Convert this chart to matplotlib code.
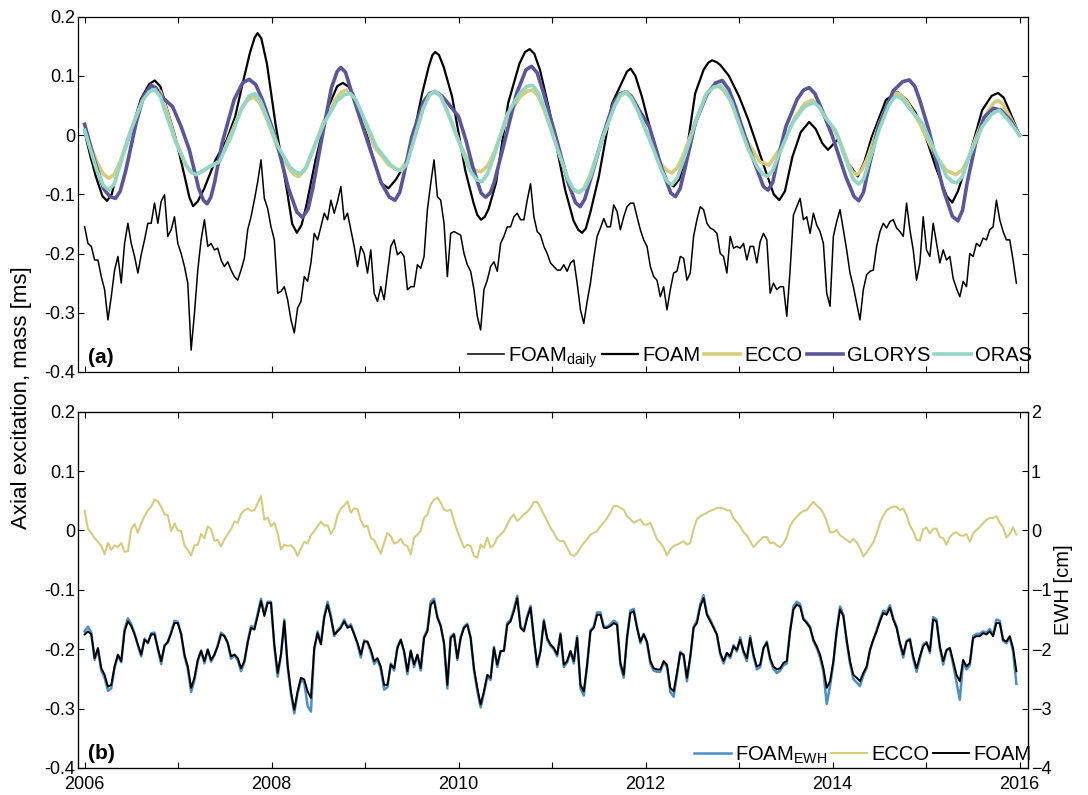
import numpy as np
import matplotlib
matplotlib.use("Agg")
import matplotlib.pyplot as plt

plt.rcParams['font.family'] = ['Liberation Sans', 'DejaVu Sans']
plt.rcParams['mathtext.fontset'] = 'custom'
plt.rcParams['mathtext.rm'] = 'Liberation Sans'

step_days = 13

# (a) FOAM daily, axial excitation [ms]
foam_daily = [
    -0.155, -0.183, -0.188, -0.211, -0.211, -0.239, -0.261, -0.312, -0.273, -0.228,
    -0.205, -0.250, -0.183, -0.149, -0.183, -0.205, -0.233, -0.202, -0.177, -0.149,
    -0.149, -0.115, -0.149, -0.112, -0.101, -0.171, -0.160, -0.138, -0.183, -0.200,
    -0.222, -0.250, -0.363, -0.301, -0.228, -0.177, -0.143, -0.188, -0.183, -0.194,
    -0.191, -0.211, -0.222, -0.214, -0.228, -0.239, -0.245, -0.228, -0.208, -0.160,
    -0.138, -0.110, -0.079, -0.042, -0.107, -0.124, -0.155, -0.177, -0.267, -0.264,
    -0.256, -0.278, -0.312, -0.334, -0.292, -0.281, -0.239, -0.247, -0.216, -0.166,
    -0.177, -0.155, -0.132, -0.143, -0.110, -0.132, -0.112, -0.087, -0.143, -0.132,
    -0.160, -0.188, -0.222, -0.188, -0.200, -0.233, -0.194, -0.267, -0.281, -0.256,
    -0.278, -0.233, -0.188, -0.177, -0.202, -0.197,
    -0.205, -0.261, -0.256, -0.256, -0.219, -0.225, -0.205, -0.126, -0.082, -0.042,
    -0.104, -0.110, -0.149, -0.239, -0.166, -0.163, -0.166, -0.169, -0.200, -0.219,
    -0.230, -0.261, -0.306, -0.329, -0.261, -0.245, -0.222, -0.214, -0.230, -0.183,
    -0.171, -0.155, -0.155, -0.138, -0.132, -0.143, -0.143, -0.110, -0.082, -0.138,
    -0.163, -0.169, -0.188, -0.200, -0.216, -0.222, -0.228, -0.228, -0.219, -0.230,
    -0.216, -0.211, -0.250, -0.295, -0.318, -0.281, -0.250, -0.208, -0.171, -0.157,
    -0.141, -0.155, -0.155, -0.118, -0.129, -0.160, -0.138, -0.121, -0.115, -0.115,
    -0.138, -0.160, -0.177, -0.188, -0.222, -0.239, -0.245, -0.273, -0.256, -0.295,
    -0.261, -0.233, -0.230, -0.205, -0.208, -0.245, -0.233, -0.171, -0.143, -0.121,
    -0.126, -0.149, -0.157, -0.160, -0.166, -0.200,
    -0.205, -0.233, -0.171, -0.191, -0.188, -0.191, -0.183, -0.211, -0.188, -0.188,
    -0.216, -0.180, -0.166, -0.177, -0.267, -0.250, -0.261, -0.256, -0.256, -0.306,
    -0.228, -0.135, -0.121, -0.107, -0.143, -0.138, -0.166, -0.132, -0.152, -0.163,
    -0.183, -0.267, -0.289, -0.171, -0.146, -0.126, -0.160, -0.194, -0.233, -0.256,
    -0.284, -0.312, -0.261, -0.236, -0.230, -0.228, -0.188, -0.163, -0.149, -0.157,
    -0.146, -0.143, -0.157, -0.163, -0.171, -0.115, -0.160, -0.194, -0.245, -0.216,
    -0.138, -0.194, -0.205, -0.149, -0.183, -0.216, -0.194, -0.211, -0.205, -0.242,
    -0.259, -0.273, -0.247, -0.256, -0.200, -0.205, -0.183, -0.188, -0.174, -0.177,
    -0.160, -0.155, -0.110, -0.143, -0.163, -0.177, -0.177, -0.211, -0.250,
]

# (a) smoothed series: (year, value)
foam_smooth = [
    (2006.0, 0.005), (2006.06, -0.035), (2006.12, -0.07), (2006.19, -0.103), (2006.24, -0.111),
    (2006.29, -0.1), (2006.36, -0.055), (2006.47, -0.008), (2006.6, 0.06), (2006.69, 0.086),
    (2006.75, 0.092), (2006.81, 0.082), (2006.87, 0.05), (2006.97, -0.003), (2007.07, -0.07),
    (2007.12, -0.105), (2007.16, -0.12), (2007.21, -0.112), (2007.28, -0.09), (2007.40, -0.042),
    (2007.52, -0.008), (2007.61, 0.031), (2007.69, 0.087), (2007.77, 0.14), (2007.82, 0.165),
    (2007.85, 0.172), (2007.89, 0.163), (2007.95, 0.12), (2008.04, 0.02), (2008.16, -0.09),
    (2008.22, -0.15), (2008.27, -0.165), (2008.32, -0.152), (2008.37, -0.12), (2008.47, -0.042),
    (2008.61, 0.048), (2008.70, 0.082), (2008.76, 0.088), (2008.82, 0.082), (2008.87, 0.07),
    (2008.97, 0.031), (2009.07, -0.03), (2009.17, -0.081), (2009.25, -0.09), (2009.33, -0.075),
    (2009.47, -0.037), (2009.61, 0.07), (2009.68, 0.115), (2009.72, 0.135), (2009.75, 0.14),
    (2009.79, 0.135), (2009.84, 0.115), (2009.93, 0.065), (2010.07, -0.059), (2010.16, -0.115),
    (2010.20, -0.135), (2010.24, -0.143), (2010.28, -0.138), (2010.32, -0.125), (2010.40, -0.081),
    (2010.53, 0.054), (2010.65, 0.12), (2010.71, 0.14), (2010.76, 0.145), (2010.81, 0.137),
    (2010.87, 0.11), (2010.97, 0.042), (2011.14, -0.093), (2011.23, -0.145), (2011.28, -0.16),
    (2011.32, -0.165), (2011.36, -0.158), (2011.41, -0.13), (2011.50, -0.07), (2011.64, 0.053),
    (2011.75, 0.09), (2011.80, 0.107), (2011.84, 0.112), (2011.89, 0.1), (2011.96, 0.065),
    (2012.05, 0.01), (2012.14, -0.042), (2012.24, -0.08), (2012.30, -0.087), (2012.36, -0.075),
    (2012.43, -0.037), (2012.53, 0.07), (2012.62, 0.11), (2012.67, 0.122), (2012.71, 0.126),
    (2012.76, 0.123), (2012.80, 0.118), (2012.89, 0.10), (2013.0, 0.065), (2013.10, 0.025),
    (2013.28, -0.059), (2013.37, -0.1), (2013.43, -0.11), (2013.49, -0.095), (2013.57, -0.037),
    (2013.66, 0.005), (2013.75, 0.022), (2013.82, 0.01), (2013.89, -0.014), (2013.95, -0.025),
    (2014.06, -0.007), (2014.17, -0.048), (2014.27, -0.07), (2014.34, -0.045), (2014.42, -0.003),
    (2014.57, 0.059), (2014.69, 0.073), (2014.79, 0.06), (2014.89, 0.037), (2015.0, -0.005),
    (2015.10, -0.053), (2015.22, -0.103), (2015.28, -0.114), (2015.34, -0.095), (2015.46, -0.037),
    (2015.60, 0.042), (2015.70, 0.066), (2015.77, 0.071), (2015.83, 0.063), (2015.88, 0.045),
    (2016.0, 0.0),
]

ecco_smooth = [
    (2006.0, 0.008), (2006.13, -0.045), (2006.2, -0.066), (2006.26, -0.073), (2006.32, -0.066),
    (2006.38, -0.045), (2006.5, 0.01), (2006.62, 0.06), (2006.69, 0.076), (2006.75, 0.08),
    (2006.81, 0.073), (2006.87, 0.045), (2006.97, -0.008), (2007.08, -0.05), (2007.14, -0.063),
    (2007.19, -0.066), (2007.25, -0.062), (2007.32, -0.055), (2007.44, -0.045), (2007.56, 0.0),
    (2007.68, 0.045), (2007.75, 0.06), (2007.81, 0.064), (2007.87, 0.055), (2007.94, 0.03),
    (2008.06, -0.02), (2008.18, -0.055), (2008.24, -0.067), (2008.29, -0.07), (2008.35, -0.06),
    (2008.42, -0.035), (2008.55, 0.02), (2008.68, 0.06), (2008.75, 0.073), (2008.81, 0.076),
    (2008.87, 0.066), (2008.95, 0.04), (2009.1, -0.02), (2009.25, -0.05), (2009.32, -0.057),
    (2009.38, -0.059), (2009.44, -0.045), (2009.5, -0.02), (2009.62, 0.045), (2009.69, 0.068),
    (2009.75, 0.073), (2009.81, 0.065), (2009.88, 0.04), (2010.0, -0.01), (2010.12, -0.05),
    (2010.18, -0.06), (2010.24, -0.062), (2010.31, -0.052), (2010.38, -0.03), (2010.52, 0.03),
    (2010.66, 0.065), (2010.73, 0.074), (2010.79, 0.076), (2010.85, 0.066), (2010.92, 0.04),
    (2011.05, -0.02), (2011.17, -0.075), (2011.23, -0.092), (2011.28, -0.097), (2011.34, -0.09),
    (2011.4, -0.07), (2011.54, -0.005), (2011.67, 0.05), (2011.73, 0.066), (2011.79, 0.071),
    (2011.85, 0.062), (2011.92, 0.04), (2012.05, -0.01), (2012.17, -0.05), (2012.23, -0.06),
    (2012.28, -0.064), (2012.34, -0.055), (2012.4, -0.035), (2012.53, 0.02), (2012.65, 0.07),
    (2012.72, 0.08), (2012.77, 0.083), (2012.83, 0.076), (2012.9, 0.06), (2013.0, 0.02),
    (2013.10, -0.014), (2013.22, -0.045), (2013.32, -0.051), (2013.45, -0.02), (2013.6, 0.03),
    (2013.7, 0.053), (2013.78, 0.059), (2013.85, 0.05), (2013.92, 0.03), (2014.06, -0.003),
    (2014.16, -0.045), (2014.21, -0.062), (2014.26, -0.067), (2014.31, -0.06), (2014.37, -0.04),
    (2014.5, 0.02), (2014.6, 0.055), (2014.65, 0.067), (2014.69, 0.071), (2014.74, 0.066),
    (2014.8, 0.055), (2014.93, 0.02), (2015.1, -0.035), (2015.22, -0.06), (2015.32, -0.067),
    (2015.39, -0.058), (2015.45, -0.04), (2015.58, 0.015), (2015.68, 0.045), (2015.73, 0.055),
    (2015.77, 0.058), (2015.82, 0.052), (2015.88, 0.035), (2016.0, 0.0),
]

glorys_smooth = [
    (2006.0, 0.018), (2006.1, -0.04), (2006.2, -0.09), (2006.27, -0.104), (2006.33, -0.107),
    (2006.38, -0.095), (2006.44, -0.06), (2006.55, 0.02), (2006.63, 0.065), (2006.71, 0.084),
    (2006.76, 0.08), (2006.82, 0.065), (2006.94, 0.048), (2007.03, 0.015), (2007.12, -0.025),
    (2007.22, -0.09), (2007.27, -0.11), (2007.31, -0.116), (2007.35, -0.105), (2007.39, -0.08),
    (2007.47, -0.014), (2007.6, 0.06), (2007.69, 0.088), (2007.76, 0.094), (2007.83, 0.085),
    (2007.9, 0.06), (2008.04, -0.003), (2008.18, -0.09), (2008.27, -0.13), (2008.33, -0.139),
    (2008.39, -0.125), (2008.44, -0.09), (2008.54, -0.003), (2008.64, 0.08), (2008.70, 0.107),
    (2008.74, 0.114), (2008.79, 0.106), (2008.86, 0.07), (2009.01, -0.003), (2009.17, -0.08),
    (2009.26, -0.105), (2009.32, -0.11), (2009.37, -0.097), (2009.41, -0.07), (2009.50, -0.003),
    (2009.62, 0.055), (2009.69, 0.07), (2009.75, 0.073), (2009.82, 0.066), (2009.88, 0.055),
    (2010.0, 0.031), (2010.08, -0.01), (2010.15, -0.053), (2010.24, -0.098), (2010.29, -0.105),
    (2010.34, -0.097), (2010.38, -0.08), (2010.47, -0.025), (2010.62, 0.07), (2010.72, 0.11),
    (2010.78, 0.116), (2010.84, 0.105), (2010.91, 0.07), (2011.04, -0.003), (2011.17, -0.08),
    (2011.25, -0.114), (2011.30, -0.121), (2011.35, -0.108), (2011.42, -0.07), (2011.54, -0.003),
    (2011.66, 0.055), (2011.73, 0.07), (2011.79, 0.073), (2011.85, 0.065), (2011.92, 0.045),
    (2012.04, 0.014), (2012.18, -0.06), (2012.27, -0.098), (2012.32, -0.104), (2012.37, -0.09),
    (2012.43, -0.05), (2012.53, 0.02), (2012.66, 0.07), (2012.75, 0.088), (2012.82, 0.092),
    (2012.89, 0.077), (2012.96, 0.048), (2013.08, -0.01), (2013.18, -0.053), (2013.26, -0.087),
    (2013.31, -0.093), (2013.36, -0.08), (2013.40, -0.05), (2013.50, 0.014), (2013.62, 0.06),
    (2013.69, 0.076), (2013.75, 0.08), (2013.81, 0.07), (2013.88, 0.045), (2014.00, -0.003),
    (2014.14, -0.07), (2014.23, -0.104), (2014.28, -0.111), (2014.33, -0.097), (2014.38, -0.06),
    (2014.49, 0.014), (2014.65, 0.075), (2014.75, 0.09), (2014.82, 0.093), (2014.88, 0.082),
    (2014.93, 0.06), (2015.03, 0.008), (2015.18, -0.09), (2015.28, -0.137), (2015.34, -0.145),
    (2015.39, -0.127), (2015.44, -0.08), (2015.53, -0.014), (2015.62, 0.03), (2015.72, 0.045),
    (2015.80, 0.042), (2015.9, 0.025), (2016.0, 0.0),
]

oras_smooth = [
    (2006.0, 0.008), (2006.13, -0.06), (2006.2, -0.085), (2006.26, -0.093), (2006.32, -0.082),
    (2006.38, -0.05), (2006.5, 0.01), (2006.62, 0.058), (2006.69, 0.073), (2006.75, 0.077),
    (2006.81, 0.065), (2006.86, 0.04), (2006.97, -0.01), (2007.08, -0.05), (2007.14, -0.063),
    (2007.19, -0.067), (2007.25, -0.062), (2007.32, -0.055), (2007.44, -0.045), (2007.56, -0.005),
    (2007.68, 0.045), (2007.76, 0.066), (2007.82, 0.07), (2007.88, 0.058), (2007.95, 0.03),
    (2008.07, -0.02), (2008.2, -0.055), (2008.26, -0.063), (2008.31, -0.065), (2008.37, -0.055),
    (2008.43, -0.03), (2008.56, 0.02), (2008.7, 0.058), (2008.78, 0.068), (2008.84, 0.07),
    (2008.9, 0.06), (2008.97, 0.035), (2009.12, -0.02), (2009.27, -0.05), (2009.33, -0.058),
    (2009.39, -0.06), (2009.45, -0.048), (2009.5, -0.02), (2009.62, 0.045), (2009.69, 0.068),
    (2009.75, 0.074), (2009.81, 0.065), (2009.88, 0.04), (2010.0, -0.01), (2010.12, -0.06),
    (2010.19, -0.075), (2010.25, -0.079), (2010.31, -0.065), (2010.38, -0.035), (2010.52, 0.035),
    (2010.66, 0.072), (2010.73, 0.082), (2010.79, 0.084), (2010.85, 0.072), (2010.92, 0.045),
    (2011.05, -0.02), (2011.17, -0.075), (2011.23, -0.092), (2011.29, -0.097), (2011.35, -0.09),
    (2011.41, -0.07), (2011.54, -0.005), (2011.67, 0.05), (2011.73, 0.068), (2011.79, 0.073),
    (2011.85, 0.062), (2011.92, 0.04), (2012.05, -0.01), (2012.17, -0.06), (2012.23, -0.078),
    (2012.28, -0.084), (2012.34, -0.072), (2012.4, -0.045), (2012.53, 0.02), (2012.65, 0.07),
    (2012.73, 0.081), (2012.8, 0.083), (2012.86, 0.073), (2012.92, 0.055), (2013.02, 0.01),
    (2013.10, -0.025), (2013.2, -0.055), (2013.25, -0.066), (2013.30, -0.07), (2013.36, -0.06),
    (2013.42, -0.035), (2013.57, 0.02), (2013.7, 0.048), (2013.8, 0.055), (2013.86, 0.047),
    (2013.92, 0.03), (2014.03, 0.008), (2014.15, -0.045), (2014.22, -0.075), (2014.28, -0.083),
    (2014.33, -0.075), (2014.38, -0.05), (2014.5, 0.01), (2014.6, 0.05), (2014.65, 0.062),
    (2014.69, 0.066), (2014.75, 0.06), (2014.82, 0.045), (2014.96, 0.02), (2015.1, -0.03),
    (2015.22, -0.07), (2015.28, -0.079), (2015.33, -0.081), (2015.39, -0.07), (2015.45, -0.04),
    (2015.60, 0.014), (2015.7, 0.035), (2015.78, 0.042), (2015.88, 0.025), (2016.0, 0.0),
]

# (b) FOAM, axial excitation [ms]
foam_b = [
    -0.175, -0.170, -0.175, -0.215, -0.198, -0.232, -0.243, -0.263, -0.260, -0.229,
    -0.209, -0.220, -0.170, -0.153, -0.161, -0.175, -0.192, -0.209, -0.184, -0.189,
    -0.175, -0.175, -0.198, -0.220, -0.195, -0.187, -0.173, -0.156, -0.156, -0.175,
    -0.209, -0.229, -0.265, -0.248, -0.218, -0.203, -0.220, -0.201, -0.218, -0.209,
    -0.195, -0.175, -0.178, -0.189, -0.212, -0.209, -0.215, -0.232, -0.220, -0.189,
    -0.164, -0.167, -0.144, -0.119, -0.144, -0.122, -0.122, -0.192, -0.240, -0.209,
    -0.153, -0.226, -0.271, -0.302, -0.271, -0.248, -0.251, -0.271, -0.282, -0.198,
    -0.173, -0.192, -0.147, -0.125, -0.147, -0.175, -0.170, -0.164, -0.153, -0.164,
    -0.161, -0.175, -0.189, -0.209, -0.187, -0.187, -0.201, -0.220, -0.215, -0.229,
    -0.260, -0.260, -0.226, -0.232, -0.198, -0.184,
    -0.203, -0.237, -0.203, -0.226, -0.209, -0.232, -0.181, -0.170, -0.125, -0.119,
    -0.147, -0.161, -0.189, -0.260, -0.181, -0.175, -0.215, -0.181, -0.164, -0.159,
    -0.181, -0.232, -0.265, -0.293, -0.271, -0.243, -0.248, -0.198, -0.226, -0.203,
    -0.203, -0.159, -0.153, -0.136, -0.114, -0.164, -0.170, -0.147, -0.130, -0.181,
    -0.226, -0.203, -0.153, -0.181, -0.192, -0.198, -0.209, -0.175, -0.226, -0.220,
    -0.203, -0.220, -0.181, -0.260, -0.271, -0.226, -0.170, -0.164, -0.142, -0.142,
    -0.164, -0.164, -0.161, -0.156, -0.159, -0.223, -0.243, -0.181, -0.139, -0.136,
    -0.164, -0.187, -0.175, -0.187, -0.220, -0.232, -0.234, -0.234, -0.220, -0.226,
    -0.265, -0.271, -0.240, -0.206, -0.209, -0.248, -0.212, -0.164, -0.156, -0.128,
    -0.114, -0.142, -0.153, -0.164, -0.175, -0.206,
    -0.220, -0.206, -0.212, -0.195, -0.201, -0.184, -0.203, -0.215, -0.181, -0.209,
    -0.229, -0.226, -0.198, -0.189, -0.215, -0.229, -0.234, -0.232, -0.223, -0.220,
    -0.170, -0.133, -0.125, -0.128, -0.150, -0.156, -0.164, -0.184, -0.195, -0.209,
    -0.232, -0.265, -0.254, -0.220, -0.170, -0.133, -0.144, -0.184, -0.220, -0.243,
    -0.248, -0.254, -0.240, -0.229, -0.201, -0.184, -0.170, -0.153, -0.139, -0.142,
    -0.130, -0.150, -0.164, -0.189, -0.209, -0.187, -0.184, -0.212, -0.232, -0.212,
    -0.195, -0.189, -0.203, -0.150, -0.153, -0.195, -0.220, -0.201, -0.198, -0.220,
    -0.243, -0.254, -0.218, -0.229, -0.223, -0.181, -0.178, -0.178, -0.173, -0.175,
    -0.170, -0.178, -0.156, -0.156, -0.184, -0.187, -0.178, -0.198, -0.237,
]

# (b) FOAM EWH [cm]
foam_ewh = [
    -1.70, -1.62, -1.72, -2.18, -2.00, -2.36, -2.48, -2.70, -2.66, -2.31,
    -2.11, -2.22, -1.66, -1.48, -1.58, -1.73, -1.94, -2.12, -1.82, -1.90,
    -1.73, -1.72, -2.00, -2.25, -1.93, -1.89, -1.71, -1.52, -1.54, -1.74,
    -2.12, -2.33, -2.72, -2.52, -2.20, -2.02, -2.24, -2.00, -2.21, -2.10,
    -1.93, -1.72, -1.77, -1.90, -2.16, -2.10, -2.18, -2.37, -2.22, -1.87,
    -1.61, -1.64, -1.40, -1.15, -1.40, -1.20, -1.20, -1.95, -2.46, -2.10,
    -1.50, -2.30, -2.76, -3.08, -2.74, -2.52, -2.56, -2.95, -3.05, -2.00,
    -1.70, -1.90, -1.44, -1.20, -1.44, -1.78, -1.68, -1.62, -1.50, -1.62,
    -1.58, -1.74, -1.92, -2.14, -1.85, -1.89, -2.04, -2.25, -2.17, -2.34,
    -2.68, -2.64, -2.24, -2.36, -1.96, -1.84,
    -2.05, -2.42, -2.02, -2.30, -2.10, -2.36, -1.79, -1.67, -1.20, -1.15,
    -1.45, -1.60, -1.92, -2.66, -1.79, -1.74, -2.18, -1.80, -1.62, -1.57,
    -1.80, -2.36, -2.70, -2.98, -2.74, -2.46, -2.52, -1.96, -2.30, -2.04,
    -2.02, -1.56, -1.50, -1.32, -1.10, -1.62, -1.68, -1.44, -1.27, -1.82,
    -2.30, -2.02, -1.50, -1.84, -1.94, -2.00, -2.12, -1.73, -2.30, -2.22,
    -2.04, -2.24, -1.78, -2.66, -2.78, -2.28, -1.68, -1.62, -1.38, -1.38,
    -1.62, -1.62, -1.58, -1.52, -1.56, -2.27, -2.48, -1.80, -1.35, -1.32,
    -1.62, -1.90, -1.74, -1.90, -2.24, -2.36, -2.38, -2.38, -2.22, -2.30,
    -2.72, -2.80, -2.44, -2.04, -2.12, -2.54, -2.14, -1.62, -1.52, -1.24,
    -1.09, -1.40, -1.50, -1.62, -1.76, -2.08,
    -2.24, -2.08, -2.15, -1.93, -2.04, -1.80, -2.06, -2.20, -1.78, -2.12,
    -2.34, -2.30, -1.98, -1.87, -2.18, -2.33, -2.40, -2.36, -2.27, -2.24,
    -1.68, -1.28, -1.20, -1.24, -1.48, -1.54, -1.62, -1.86, -1.98, -2.14,
    -2.38, -2.92, -2.62, -2.24, -1.68, -1.28, -1.42, -1.88, -2.24, -2.50,
    -2.56, -2.62, -2.44, -2.32, -2.02, -1.84, -1.68, -1.50, -1.35, -1.38,
    -1.26, -1.48, -1.62, -1.92, -2.14, -1.86, -1.82, -2.16, -2.38, -2.16,
    -1.92, -1.88, -2.06, -1.46, -1.50, -1.98, -2.26, -2.02, -1.98, -2.26,
    -2.56, -2.85, -2.22, -2.34, -2.27, -1.78, -1.74, -1.74, -1.70, -1.72,
    -1.66, -1.76, -1.50, -1.52, -1.86, -1.90, -1.80, -2.04, -2.58,
]

# (b) ECCO EWH [cm]
ecco_ewh = [
    0.33, 0.03, -0.04, -0.13, -0.19, -0.26, -0.40, -0.21, -0.33, -0.25,
    -0.28, -0.21, -0.36, -0.35, 0.02, 0.11, -0.04, 0.12, 0.24, 0.34,
    0.40, 0.52, 0.49, 0.40, 0.27, 0.26, -0.01, 0.12, 0.00, -0.01,
    -0.25, -0.33, -0.42, -0.25, -0.24, -0.06, -0.13, 0.07, 0.02, -0.17,
    -0.16, -0.27, -0.15, -0.06, 0.02, 0.15, 0.13, 0.28, 0.34, 0.37,
    0.33, 0.34, 0.46, 0.58, 0.18, 0.22, 0.07, 0.13, -0.04, -0.32,
    -0.24, -0.26, -0.25, -0.31, -0.43, -0.30, -0.19, -0.22, -0.08, -0.01,
    0.07, 0.15, 0.08, 0.09, -0.06, 0.03, 0.26, 0.37, 0.42, 0.49,
    0.30, 0.37, 0.36, 0.17, 0.06, 0.08, -0.13, -0.16, -0.28, -0.39,
    -0.21, -0.04, -0.10, -0.22, -0.20, -0.14,
    -0.24, -0.26, -0.40, -0.12, -0.07, -0.01, 0.21, 0.27, 0.44, 0.52,
    0.55, 0.47, 0.35, 0.33, 0.35, 0.16, -0.01, -0.15, -0.29, -0.24,
    -0.26, -0.43, -0.46, -0.24, -0.29, -0.12, -0.29, -0.24, -0.12, -0.07,
    -0.01, 0.10, 0.21, 0.27, 0.16, 0.21, 0.27, 0.31, 0.38, 0.48,
    0.48, 0.38, 0.27, 0.16, 0.04, -0.04, -0.15, -0.18, -0.18, -0.29,
    -0.40, -0.43, -0.38, -0.29, -0.21, -0.15, -0.07, -0.04, -0.01, 0.07,
    0.13, 0.21, 0.30, 0.41, 0.41, 0.38, 0.35, 0.24, 0.19, 0.13,
    0.16, 0.19, 0.10, 0.10, 0.13, -0.01, -0.15, -0.21, -0.29, -0.42,
    -0.32, -0.26, -0.24, -0.21, -0.18, -0.24, -0.21, 0.02, 0.19, 0.24,
    0.27, 0.30, 0.33, 0.35, 0.38, 0.38,
    0.37, 0.34, 0.34, 0.20, 0.14, 0.07, -0.03, -0.08, -0.18, -0.28,
    -0.22, -0.16, -0.11, -0.11, -0.22, -0.20, -0.25, -0.28, -0.22, -0.11,
    0.08, 0.17, 0.23, 0.29, 0.33, 0.34, 0.42, 0.48, 0.42, 0.37,
    0.29, 0.16, -0.03, -0.03, 0.01, -0.08, -0.12, -0.16, -0.20, -0.14,
    -0.20, -0.30, -0.44, -0.37, -0.28, -0.20, -0.06, 0.13, 0.25, 0.34,
    0.38, 0.40, 0.40, 0.34, 0.37, 0.26, 0.08, -0.01, -0.16, -0.17,
    0.02, 0.05, -0.05, 0.03, 0.03, -0.11, -0.13, -0.24, -0.11, -0.05,
    -0.03, -0.08, -0.09, -0.06, -0.19, -0.05, 0.01, 0.06, 0.12, 0.18,
    0.21, 0.21, 0.24, 0.13, 0.05, -0.12, -0.06, 0.05, -0.07,
]

c_ecco = '#d7cc7e'
c_glorys = '#5b559b'
c_oras = '#93d6c6'
c_ewh = '#4a8fc6'


def days_axis(vals):
    return 2006 + np.arange(len(vals)) * step_days / 365.25


def split(pairs):
    a = np.array(pairs)
    return a[:, 0], a[:, 1]


def style_axes(ax):
    ax.set_xlim(2005.929, 2016.09)
    ax.set_ylim(-0.4, 0.2)
    ax.set_yticks([-0.4, -0.3, -0.2, -0.1, 0, 0.1, 0.2])
    ax.set_yticklabels(['-0.4', '-0.3', '-0.2', '-0.1', '0', '0.1', '0.2'])
    ax.set_xticks(range(2006, 2017))
    ax.tick_params(direction='in', length=4.5, width=0.8, top=True, labelsize=13, pad=2)
    ax.tick_params(axis='x', pad=6)
    for s in ax.spines.values():
        s.set_linewidth(0.9)


fig = plt.figure(figsize=(10.88, 7.95), dpi=100)
W, H = 1088.0, 795.0
ax1 = fig.add_axes([78 / W, 1 - 372 / H, 950 / W, 355.5 / H])
ax2 = fig.add_axes([78 / W, 1 - 768 / H, 950 / W, 356.3 / H])

# panel (a)
ax1.plot(days_axis(foam_daily), foam_daily, color='black', lw=1.1, label='FOAM$_{\\mathrm{daily}}$')
x, y = split(foam_smooth)
ax1.plot(x, y, color='black', lw=1.6, label='FOAM')
x, y = split(ecco_smooth)
ax1.plot(x, y, color=c_ecco, lw=2.6, label='ECCO', solid_joinstyle='round')
x, y = split(glorys_smooth)
ax1.plot(x, y, color=c_glorys, lw=2.6, label='GLORYS', solid_joinstyle='round')
x, y = split(oras_smooth)
ax1.plot(x, y, color=c_oras, lw=2.6, label='ORAS', solid_joinstyle='round')
style_axes(ax1)
ax1.tick_params(right=True, labelbottom=False)
ax1.text(0.011, 0.025, '(a)', transform=ax1.transAxes, fontsize=15, fontweight='bold')
ax1.legend(loc='lower right', bbox_to_anchor=(1.008, -0.005), ncol=5, frameon=False,
           fontsize=14.5, handlelength=1.8, handletextpad=0.2, columnspacing=0.2,
           borderpad=0.1, borderaxespad=0.1)

# panel (b)
ax2r = ax2.twinx()
t = days_axis(foam_b)
l1, = ax2r.plot(t, foam_ewh, color=c_ewh, lw=1.8, label='FOAM$_{\\mathrm{EWH}}$')
l2, = ax2r.plot(t, ecco_ewh, color=c_ecco, lw=1.5, label='ECCO')
l3, = ax2r.plot(t, np.array(foam_b) * 10, color='black', lw=1.4, label='FOAM')
ax2r.set_ylim(-4, 2)
ax2r.set_yticks(range(-4, 3))
ax2r.tick_params(direction='in', length=4.5, width=0.8, labelsize=13, pad=2)
ax2r.set_ylabel('EWH [cm]', fontsize=14.5, labelpad=2)
style_axes(ax2)
ax2.set_xticklabels([str(yr) if yr % 2 == 0 else '' for yr in range(2006, 2017)])
ax2.text(0.011, 0.025, '(b)', transform=ax2.transAxes, fontsize=15, fontweight='bold')
ax2r.legend(handles=[l1, l2, l3], loc='lower right', bbox_to_anchor=(1.008, -0.005), ncol=3,
            frameon=False, fontsize=14.5, handlelength=1.8, handletextpad=0.2,
            columnspacing=0.2, borderpad=0.1, borderaxespad=0.1)

fig.text(0.02, 0.5, 'Axial excitation, mass [ms]', rotation=90, va='center', ha='center',
         fontsize=16)

fig.savefig('out.png', dpi=100)
